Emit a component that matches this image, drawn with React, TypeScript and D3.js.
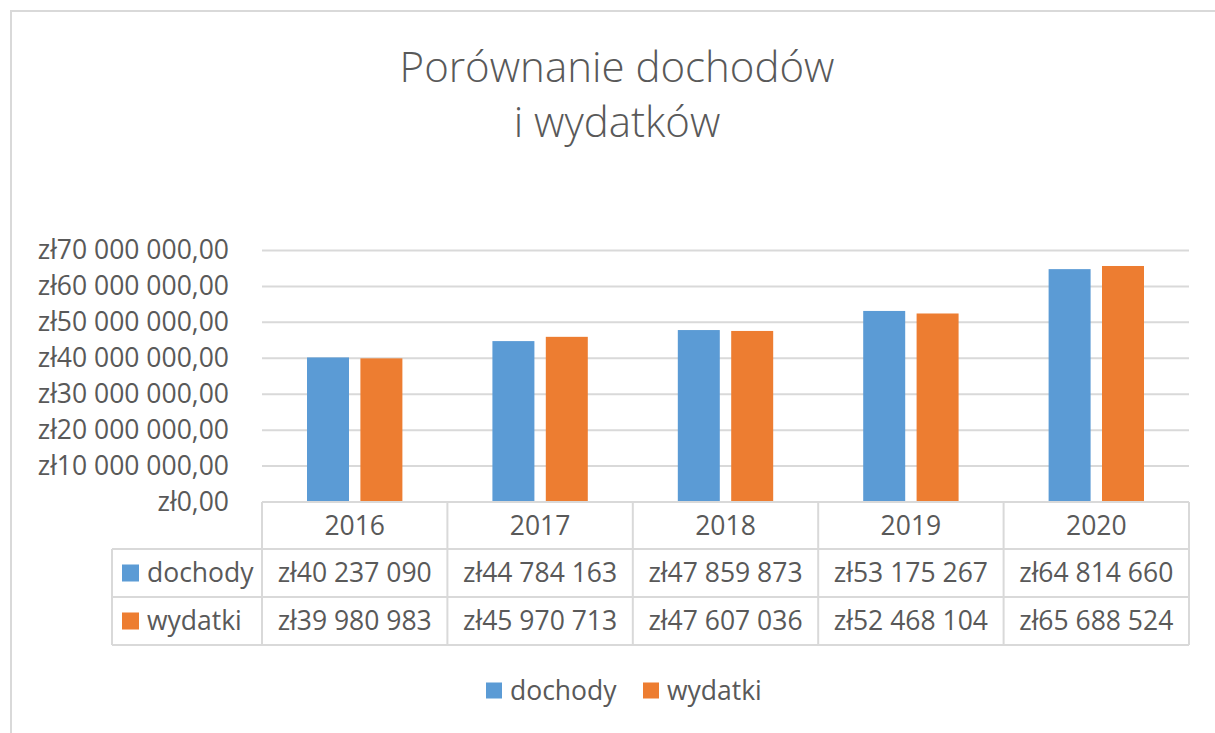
import React, { useRef, useEffect } from "react";
import * as d3 from "d3";

const years = ["2016", "2017", "2018", "2019", "2020"];
const seriesNames = ["dochody", "wydatki"];
const dochody = [40237090, 44784163, 47859873, 53175267, 64814660];
const wydatki = [39980983, 45970713, 47607036, 52468104, 65688524];
const yTicks = [0, 10000000, 20000000, 30000000, 40000000, 50000000, 60000000, 70000000];
const seriesColors = ["#5B9BD5", "#ED7D31"];
const titleLines = ["Porównanie dochodów", "i wydatków"];

const FONT = "'Open Sans', Lato, sans-serif";
const TEXT = "#595959";
const GRID = "#d9d9d9";

const pl = d3.formatLocale({
  decimal: ",",
  thousands: "\u00a0",
  grouping: [3],
  currency: ["zł", ""],
});
const fmtAxis = pl.format("$,.2f");
const fmtCell = pl.format("$,.0f");

function App() {
  const ref = useRef<SVGSVGElement>(null);

  useEffect(() => {
    const svg = d3.select(ref.current);
    svg.selectAll("*").remove();

    const W = 1215;
    const H = 733;
    const plot = { left: 262, right: 1189, top: 250.5, bottom: 502 };
    const rowBottoms = [549, 597, 645];
    const tableLeft = 112;
    const fontSize = 26.5;

    // chart area frame
    svg
      .append("rect")
      .attr("x", 11)
      .attr("y", 11)
      .attr("width", W + 20)
      .attr("height", H + 20)
      .attr("fill", "#fff")
      .attr("stroke", GRID)
      .attr("stroke-width", 2);

    // title
    svg
      .append("text")
      .attr("text-anchor", "middle")
      .attr("font-family", FONT)
      .attr("font-weight", 300)
      .attr("font-size", 42)
      .attr("fill", TEXT)
      .selectAll("tspan")
      .data(titleLines)
      .enter()
      .append("tspan")
      .attr("x", 617)
      .attr("y", (d, i) => 82 + i * 55)
      .text((d) => d);

    const x0 = d3
      .scaleBand()
      .domain(years)
      .range([plot.left, plot.right])
      .paddingInner(0)
      .paddingOuter(0);

    const x1 = d3
      .scaleBand()
      .domain(seriesNames)
      .range([0, x0.bandwidth()])
      .paddingInner(0.2135)
      .paddingOuter(0.843);

    const y = d3
      .scaleLinear()
      .domain([0, 70000000])
      .range([plot.bottom, plot.top]);

    // gridlines
    svg
      .append("g")
      .selectAll("line")
      .data(yTicks.slice(1))
      .enter()
      .append("line")
      .attr("x1", plot.left)
      .attr("x2", plot.right)
      .attr("y1", (d) => y(d))
      .attr("y2", (d) => y(d))
      .attr("stroke", GRID)
      .attr("stroke-width", 2);

    // y axis labels
    const yAxis = svg
      .append("g")
      .attr("transform", `translate(${plot.left},0)`)
      .call(d3.axisLeft(y).tickValues(yTicks).tickSize(0).tickPadding(33).tickFormat((d) => fmtAxis(+d)));
    yAxis.select(".domain").remove();
    yAxis
      .selectAll("text")
      .attr("font-family", FONT)
      .attr("font-size", fontSize)
      .attr("fill", TEXT);

    // bars
    const series = [dochody, wydatki];
    seriesNames.forEach((name, si) => {
      svg
        .append("g")
        .selectAll("rect")
        .data(series[si])
        .enter()
        .append("rect")
        .attr("x", (d, i) => (x0(years[i]) as number) + (x1(name) as number))
        .attr("width", x1.bandwidth())
        .attr("y", (d) => y(d))
        .attr("height", (d) => y(0) - y(d))
        .attr("fill", seriesColors[si]);
    });

    // data table
    const table = svg.append("g").attr("stroke", GRID).attr("stroke-width", 2).attr("fill", "none");
    table
      .append("line")
      .attr("x1", plot.left)
      .attr("x2", plot.right)
      .attr("y1", plot.bottom)
      .attr("y2", plot.bottom);
    rowBottoms.forEach((yy) => {
      table
        .append("line")
        .attr("x1", tableLeft)
        .attr("x2", plot.right)
        .attr("y1", yy)
        .attr("y2", yy);
    });
    years.forEach((yr) => {
      table
        .append("line")
        .attr("x1", x0(yr) as number)
        .attr("x2", x0(yr) as number)
        .attr("y1", plot.bottom)
        .attr("y2", rowBottoms[2]);
    });
    table
      .append("line")
      .attr("x1", plot.right)
      .attr("x2", plot.right)
      .attr("y1", plot.bottom)
      .attr("y2", rowBottoms[2]);
    table
      .append("line")
      .attr("x1", tableLeft)
      .attr("x2", tableLeft)
      .attr("y1", rowBottoms[0])
      .attr("y2", rowBottoms[2]);

    // header row: years
    svg
      .append("g")
      .selectAll("text")
      .data(years)
      .enter()
      .append("text")
      .attr("x", (d) => (x0(d) as number) + x0.bandwidth() / 2)
      .attr("y", (plot.bottom + rowBottoms[0]) / 2)
      .attr("dy", "0.35em")
      .attr("text-anchor", "middle")
      .attr("font-family", FONT)
      .attr("font-size", fontSize)
      .attr("fill", TEXT)
      .text((d) => d);

    // series rows
    seriesNames.forEach((name, si) => {
      const top = rowBottoms[si];
      const bottom = rowBottoms[si + 1];
      const mid = (top + bottom) / 2;
      svg
        .append("rect")
        .attr("x", tableLeft + 10)
        .attr("y", mid - 8.5)
        .attr("width", 17)
        .attr("height", 17)
        .attr("fill", seriesColors[si]);
      svg
        .append("text")
        .attr("x", tableLeft + 35)
        .attr("y", mid)
        .attr("dy", "0.35em")
        .attr("font-family", FONT)
        .attr("font-size", fontSize)
        .attr("fill", TEXT)
        .text(name);
      svg
        .append("g")
        .selectAll("text")
        .data(series[si])
        .enter()
        .append("text")
        .attr("x", (d, i) => (x0(years[i]) as number) + x0.bandwidth() / 2)
        .attr("y", mid)
        .attr("dy", "0.35em")
        .attr("text-anchor", "middle")
        .attr("font-family", FONT)
        .attr("font-size", fontSize)
        .attr("fill", TEXT)
        .text((d) => fmtCell(d));
    });

    // legend
    const legendX = [486, 643];
    const legend = svg
      .append("g")
      .selectAll("g")
      .data(seriesNames)
      .enter()
      .append("g")
      .attr("transform", (d, i) => `translate(${legendX[i]},691)`);
    legend
      .append("rect")
      .attr("x", 0)
      .attr("y", -8.5)
      .attr("width", 16)
      .attr("height", 16)
      .attr("fill", (d, i) => seriesColors[i]);
    legend
      .append("text")
      .attr("x", 24)
      .attr("y", 0)
      .attr("dy", "0.35em")
      .attr("font-family", FONT)
      .attr("font-size", fontSize)
      .attr("fill", TEXT)
      .text((d) => d);
  }, []);

  return (
    <svg
      ref={ref}
      width={1215}
      height={733}
      style={{ position: "absolute", left: 0, top: 0, background: "#fff" }}
    ></svg>
  );
}

export default App;
